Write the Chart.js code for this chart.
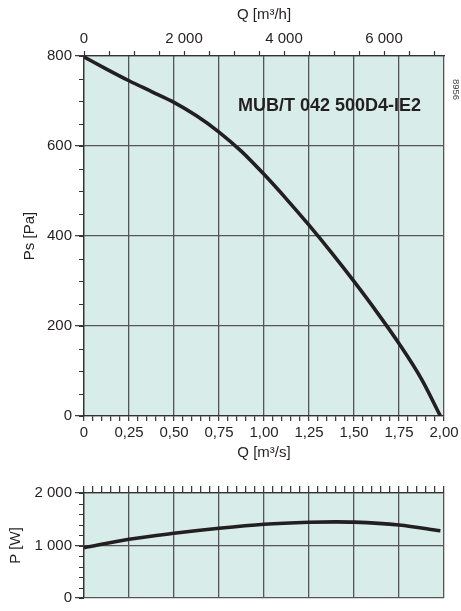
<!DOCTYPE html>
<html>
<head>
<meta charset="utf-8">
<script src="https://cdn.jsdelivr.net/npm/chart.js@4.4.1/dist/chart.umd.min.js"></script>
<style>
  html, body { margin:0; padding:0; background:#ffffff; width:461px; height:611px; overflow:hidden; }
  #wrap { position:relative; width:461px; height:611px; overflow:hidden; }
  canvas { position:absolute; left:0; }
  #c1 { top:0; }
  #c2 { top:470px; }
  .model { position:absolute; left:238px; top:95px; font:bold 18px "Liberation Sans", Arial, sans-serif; color:#231f20; line-height:20px; white-space:nowrap; }
  .code { position:absolute; left:462px; top:79px; font:9.5px "Liberation Sans", Arial, sans-serif; color:#444; transform:rotate(90deg); transform-origin:left top; white-space:nowrap; }
</style>
</head>
<body>
<div id="wrap">
  <canvas id="c1" width="500" height="470"></canvas>
  <canvas id="c2" width="500" height="160"></canvas>
  <div class="model">MUB/T 042 500D4-IE2</div>
  <div class="code">8956</div>
</div>
<script>
// ---- data ----
const Q_PS = [0, 0.125, 0.25, 0.375, 0.5, 0.625, 0.75, 0.875, 1.0, 1.125, 1.25, 1.375, 1.5, 1.625, 1.75, 1.875, 1.98]; // m3/s
const PS   = [798, 771, 745, 721, 697, 667, 631, 588, 537, 482, 424, 363, 299, 232, 161, 82, 0];                 // Pa
const Q_P  = [0, 0.25, 0.5, 0.75, 1.0, 1.25, 1.4, 1.5, 1.75, 1.98];                                            // m3/s
const P    = [958, 1118, 1232, 1328, 1404, 1442, 1450, 1445, 1390, 1282];                                       // W

// axis ranges / tick steps
const Q_MIN = 0, Q_MAX = 2.0, Q_STEP = 0.05, Q_MAJOR = 0.25;
const QH_TICKS = [0, 500, 1000, 1500, 2000, 2500, 3000, 3500, 4000, 4500, 5000, 5500, 6000, 6500, 7000];
const QH_LABELS = [0, 2000, 4000, 6000];
const QH_MAX = 7200;
const PS_MAX = 800, PS_STEP = 200, PS_MINOR = 50;
const P_MAX = 2000, P_STEP = 1000, P_MINOR = 200;

const FONT = '"Liberation Sans", Arial, sans-serif';
const INK = '#231f20';
const GRID = '#555555';
const AXIS = '#333333';
const FILL = '#d8ecea';

Chart.defaults.font.family = FONT;
Chart.defaults.font.size = 15;
Chart.defaults.color = INK;

const isMultiple = (v, m) => Math.abs(v / m - Math.round(v / m)) < 1e-6;
const thousands = v => v === 0 ? '0' : String(Math.round(v)).replace(/\B(?=(\d{3})+(?!\d))/g, ' ');

const bgPlugin = {
  id: 'bgFill',
  beforeDraw(chart) {
    const a = chart.chartArea, ctx = chart.ctx;
    ctx.save();
    ctx.fillStyle = FILL;
    ctx.fillRect(a.left, a.top, a.right - a.left, a.bottom - a.top);
    ctx.restore();
  }
};

const minorPlugin = {
  id: 'minorTicks',
  afterDraw(chart, args, opts) {
    const s = chart.scales[opts.axis];
    if (!s) return;
    const ctx = chart.ctx;
    ctx.save();
    ctx.strokeStyle = AXIS;
    ctx.lineWidth = 1.2;
    ctx.beginPath();
    for (let v = s.min; v <= s.max + 1e-9; v += opts.step) {
      const y = Math.round(s.getPixelForValue(v)) + 0.5;
      ctx.moveTo(s.right - opts.len, y);
      ctx.lineTo(s.right, y);
    }
    ctx.stroke();
    ctx.restore();
  }
};

const lineDS = (xs, ys) => ({
  data: xs.map((x, i) => ({x, y: ys[i]})),
  borderColor: INK,
  borderWidth: 3.6,
  pointRadius: 0,
  fill: false,
  cubicInterpolationMode: 'monotone',
  xAxisID: 'x',
  yAxisID: 'y'
});

// ---- top chart: Ps ----
new Chart(document.getElementById('c1'), {
  type: 'line',
  data: { datasets: [lineDS(Q_PS, PS)] },
  plugins: [bgPlugin, minorPlugin],
  options: {
    responsive: false,
    animation: false,
    devicePixelRatio: 1,
    layout: { padding: { left: 0, right: 56, top: 0, bottom: 0 } },
    plugins: {
      legend: { display: false },
      tooltip: { enabled: false },
      minorTicks: { axis: 'y', step: PS_MINOR, len: 5 }
    },
    scales: {
      x: {
        type: 'linear', position: 'bottom', min: Q_MIN, max: Q_MAX,
        afterFit: s => { s.height = 54; },
        ticks: {
          stepSize: Q_STEP, autoSkip: false, maxRotation: 0, minRotation: 0, padding: 3,
          callback: v => isMultiple(v, Q_MAJOR) ? (v === 0 ? '0' : v.toFixed(2).replace('.', ',')) : ''
        },
        grid: {
          color: c => (c.tick && isMultiple(c.tick.value, Q_MAJOR)) ? GRID : 'rgba(0,0,0,0)',
          lineWidth: 1.3, tickColor: AXIS, tickLength: 5, tickWidth: 1.2
        },
        border: { display: true, color: AXIS, width: 1.3 },
        title: { display: true, text: 'Q [m³/s]', padding: { top: 0, bottom: 8 }, font: { size: 15 } }
      },
      x2: {
        type: 'linear', axis: 'x', position: 'top', min: 0, max: QH_MAX,
        afterFit: s => { s.height = 56; },
        afterBuildTicks: s => { s.ticks = QH_TICKS.map(v => ({ value: v })); },
        ticks: {
          autoSkip: false, maxRotation: 0, minRotation: 0, padding: 3,
          callback: (v, i) => QH_LABELS.includes(QH_TICKS[i]) ? thousands(QH_TICKS[i]) : ''
        },
        grid: { drawOnChartArea: false, tickColor: AXIS, tickLength: 5, tickWidth: 1.2 },
        border: { display: true, color: AXIS, width: 1.3 },
        title: { display: true, text: 'Q [m³/h]', padding: { top: 6, bottom: 0 }, font: { size: 15 } }
      },
      y: {
        type: 'linear', position: 'left', min: 0, max: PS_MAX,
        afterFit: s => { s.width = 84; },
        ticks: { stepSize: PS_STEP, padding: 3, callback: v => thousands(v) },
        grid: { color: GRID, lineWidth: 1.3, tickColor: AXIS, tickLength: 9, tickWidth: 1.2 },
        border: { display: true, color: AXIS, width: 1.3 },
        title: { display: true, text: 'Ps [Pa]', padding: { top: 21, bottom: 0 }, font: { size: 15 } }
      }
    }
  }
});

// ---- bottom chart: P ----
new Chart(document.getElementById('c2'), {
  type: 'line',
  data: { datasets: [lineDS(Q_P, P)] },
  plugins: [bgPlugin, minorPlugin],
  options: {
    responsive: false,
    animation: false,
    devicePixelRatio: 1,
    layout: { padding: { left: 0, right: 56, top: 0, bottom: 32 } },
    plugins: {
      legend: { display: false },
      tooltip: { enabled: false },
      minorTicks: { axis: 'y', step: P_MINOR, len: 5 }
    },
    scales: {
      x: {
        type: 'linear', position: 'top', min: Q_MIN, max: Q_MAX,
        afterFit: s => { s.height = 23; },
        ticks: { stepSize: Q_STEP, autoSkip: false, maxRotation: 0, minRotation: 0, callback: () => '' },
        grid: {
          color: c => (c.tick && isMultiple(c.tick.value, Q_MAJOR)) ? GRID : 'rgba(0,0,0,0)',
          lineWidth: 1.3, tickColor: AXIS, tickLength: 7, tickWidth: 1.2
        },
        border: { display: true, color: AXIS, width: 1.3 }
      },
      y: {
        type: 'linear', position: 'left', min: 0, max: P_MAX,
        afterFit: s => { s.width = 84; },
        ticks: { stepSize: P_STEP, padding: 3, callback: v => thousands(v) },
        grid: { color: GRID, lineWidth: 1.3, tickColor: AXIS, tickLength: 9, tickWidth: 1.2 },
        border: { display: true, color: AXIS, width: 1.3 },
        title: { display: true, text: 'P [W]', padding: { top: 7, bottom: 0 }, font: { size: 15 } }
      }
    }
  }
});
</script>
</body>
</html>
